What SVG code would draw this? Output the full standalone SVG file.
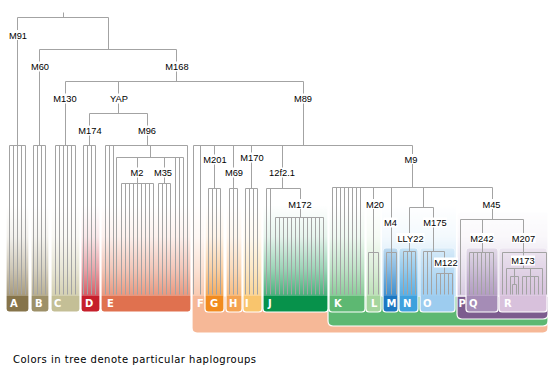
<svg xmlns="http://www.w3.org/2000/svg" width="553" height="374" viewBox="0 0 553 374">
<style>
.col{stroke:#fff;stroke-width:1.2;mask:url(#fade)}
.lt{font-family:"DejaVu Sans",Verdana,sans-serif;font-weight:bold;font-size:10px;fill:#fff}
.lb{font-family:"Liberation Sans",Arial,sans-serif;font-size:9.3px;fill:#000;text-anchor:middle}
.bg{fill:#fff}
.cA{fill:#86744a}.cB{fill:#9d9068}.cC{fill:#c4bf96}.cD{fill:#c61f2b}.cE{fill:#e0714f}
.cF{fill:#f6b897}.cG{fill:#f18b1f}.cH{fill:#f4a352}.cI{fill:#f9c56d}.cJ{fill:#07924b}
.cK{fill:#5db872}.cL{fill:#a5d59e}.cM{fill:#1c77c1}.cN{fill:#3ea1dd}.cO{fill:#9dccef}
.cP{fill:#7c5c8e}.cQ{fill:#a58cb6}.cR{fill:#d8c1dc}.cBl{fill:#8cc6ee}.cPu{fill:#c7b6d5}
#conn path{fill:none;stroke:#a3a3a3;stroke-width:1}
</style>
<defs>
<linearGradient id="fg" x1="0" y1="0" x2="0" y2="1">
<stop offset="0" stop-color="#000"/>
<stop offset="0.35" stop-color="#1a1a1a"/>
<stop offset="0.7" stop-color="#666"/>
<stop offset="1" stop-color="#bdbdbd"/>
</linearGradient>
<mask id="fade" maskUnits="userSpaceOnUse" x="0" y="0" width="553" height="374">
<rect x="0" y="205" width="553" height="91" fill="url(#fg)"/>
<rect x="0" y="296" width="553" height="78" fill="#fff"/>
</mask>
</defs>
<rect width="553" height="374" fill="#fff"/>

<g id="hg-F">
<path class="cF col" d="M192 205H205V296H548V328Q548 333 543 333H197Q192 333 192 328Z"/>
<text class="lt" x="197" y="307">F</text>
</g>
<g id="hg-K">
<path class="cK" stroke="#fff" stroke-width="1.2" d="M328 296H548V321Q548 326 543 326H333Q328 326 328 321Z"/>
<path class="cK col" d="M329 205H365V309Q365 312 362 312H332Q329 312 329 309Z"/>
<text class="lt" x="334" y="307">K</text>
</g>
<g id="hg-P">
<path class="cP" stroke="#fff" stroke-width="1.2" d="M457 296H548V314Q548 319 543 319H462Q457 319 457 314Z"/>
<path class="cPu col" d="M457 296V217Q457 212 462 212H548V296Z"/>
<text class="lt" x="458.5" y="307">P</text>
</g>
<g id="tint-MNO">
<rect class="cBl" x="382" y="205" width="74" height="91" mask="url(#fade)"/>
</g>

<g id="hg-A"><path class="cA col" d="M6 205H29V309Q29 312 26 312H9Q6 312 6 309Z"/><text class="lt" x="10" y="307">A</text></g>
<g id="hg-B"><path class="cB col" d="M31 205H49V309Q49 312 46 312H34Q31 312 31 309Z"/><text class="lt" x="35" y="307">B</text></g>
<g id="hg-C"><path class="cC col" d="M51 205H80V309Q80 312 77 312H54Q51 312 51 309Z"/><text class="lt" x="54" y="307">C</text></g>
<g id="hg-D"><path class="cD col" d="M81 205H100V309Q100 312 97 312H84Q81 312 81 309Z"/><text class="lt" x="85" y="307">D</text></g>
<g id="hg-E"><path class="cE col" d="M101 205H191V309Q191 312 188 312H104Q101 312 101 309Z"/><text class="lt" x="107" y="307">E</text></g>
<g id="hg-G"><path class="cG col" d="M205 205H224V309Q224 312 221 312H208Q205 312 205 309Z"/><text class="lt" x="210" y="307">G</text></g>
<g id="hg-H"><path class="cH col" d="M226 205H242V309Q242 312 239 312H229Q226 312 226 309Z"/><text class="lt" x="229" y="307">H</text></g>
<g id="hg-I"><path class="cI col" d="M243 205H262V309Q262 312 259 312H246Q243 312 243 309Z"/><text class="lt" x="245" y="307">I</text></g>
<g id="hg-J"><path class="cJ col" d="M263 205H328V309Q328 312 325 312H266Q263 312 263 309Z"/><text class="lt" x="268" y="307">J</text></g>
<g id="hg-L"><path class="cL col" d="M366 205H381V309Q381 312 378 312H369Q366 312 366 309Z"/><text class="lt" x="371" y="307">L</text></g>
<g id="hg-M"><path class="cM col" d="M383 251Q383 248 386 248H395Q398 248 398 251V309Q398 312 395 312H386Q383 312 383 309Z"/><text class="lt" x="386.5" y="307">M</text></g>
<g id="hg-N"><path class="cN col" d="M399 251Q399 248 402 248H415Q418 248 418 251V309Q418 312 415 312H402Q399 312 399 309Z"/><text class="lt" x="403" y="307">N</text></g>
<g id="hg-O"><path class="cO col" d="M420 251Q420 248 423 248H452Q455 248 455 251V309Q455 312 452 312H423Q420 312 420 309Z"/><text class="lt" x="423" y="307">O</text></g>
<g id="hg-Q"><path class="cQ col" d="M466 251Q466 248 469 248H495Q498 248 498 251V309Q498 312 495 312H469Q466 312 466 309Z"/><text class="lt" x="469" y="307">Q</text></g>
<g id="hg-R"><path class="cR col" d="M499 251Q499 248 502 248H544Q547 248 547 251V309Q547 312 544 312H502Q499 312 499 309Z"/><text class="lt" x="504" y="307">R</text></g>

<g id="conn" transform="translate(0.5 0.5)">
<path d="M63 12V17M17 17H108M17 17V145M108 17V49M39 49H176M39 49V145M176 49V81M65 81H303M65 81V145M118 81V113M89 113H147M89 113V145M147 113V145M303 81V145"/>
<path d="M9 145H25M9 145V294M13 145V294M17 145V294M21 145V294M25 145V294"/>
<path d="M33 145H45M33 145V294M37 145V294M41 145V294M45 145V294"/>
<path d="M55 145H75M55 145V294M59 145V294M63 145V294M67 145V294M71 145V294M75 145V294"/>
<path d="M83 145H95M83 145V294M87 145V294M91 145V294M95 145V294"/>
<path d="M105 145H187M105 145V294M109 145V294M113 145V294M187 145V294M150 145V157M116 157H183M116 157V294M175 157V294M179 157V294M183 157V294"/>
<path d="M137 157V183M121 183H153M121 183V294M125 183V294M129 183V294M133 183V294M137 183V294M141 183V294M145 183V294M149 183V294M153 183V294"/>
<path d="M164 157V183M158 183H170M158 183V294M162 183V294M166 183V294M170 183V294"/>
<path d="M193 145H412M193 145V294M200 145V294"/>
<path d="M214 145V188M208 188H220M208 188V294M212 188V294M216 188V294M220 188V294"/>
<path d="M233 145V188M229 188H237M229 188V294M233 188V294M237 188V294"/>
<path d="M251 145V188M245 188H257M245 188V294M249 188V294M253 188V294M257 188V294"/>
<path d="M282 145V188M266 188H300M266 188V294M270 188V294M300 188V217M275 217H323M275 217V294M279 217V294M283 217V294M287 217V294M291 217V294M295 217V294M299 217V294M303 217V294M307 217V294M311 217V294M315 217V294M319 217V294M323 217V294"/>
<path d="M412 145V187M332 187H492M332 187V294M336 187V294M340 187V294M344 187V294M348 187V294M352 187V294M356 187V294M360 187V294"/>
<path d="M373 187V252M368 252H378M368 252V294M373 252V294M378 252V294"/>
<path d="M391 187V252M386 252H396M386 252V294M391 252V294M396 252V294"/>
<path d="M423 187V207M409 207H433M409 207V251M403 251H415M403 251V294M407 251V294M411 251V294M415 251V294"/>
<path d="M433 207V251M423 251H444M423 251V294M427 251V294M431 251V294M444 251V273M436 273H452M436 273V294M440 273V294M444 273V294M448 273V294M452 273V294"/>
<path d="M492 187V219M460 219H523M460 219V294M482 219V252M469 252H493M469 252V294M473 252V294M477 252V294M481 252V294M485 252V294M489 252V294M493 252V294"/>
<path d="M523 219V268M502 252H546M502 252V294M546 252V294M506 268H542M506 268V294M542 268V294M514 268V276M510 276H518M510 276V294M518 276V294M514 276V284M512 284H516M512 284V294M516 284V294M530 268V276M522 276H538M522 276V294M526 276V294M530 276V294M534 276V294M538 276V294"/>
</g>

<g id="n-M91"><rect class="bg" x="9" y="30" width="19" height="10"/><text class="lb" x="18" y="38.5">M91</text></g>
<g id="n-M60"><rect class="bg" x="30.5" y="61.5" width="19" height="10"/><text class="lb" x="40" y="70">M60</text></g>
<g id="n-M168"><rect class="bg" x="165" y="61.5" width="24" height="10"/><text class="lb" x="177" y="70">M168</text></g>
<g id="n-M130"><rect class="bg" x="53" y="93.5" width="24" height="10"/><text class="lb" x="65" y="102">M130</text></g>
<g id="n-YAP"><rect class="bg" x="109" y="93.5" width="20" height="10"/><text class="lb" x="119" y="102">YAP</text></g>
<g id="n-M89"><rect class="bg" x="293.5" y="93.5" width="19" height="10"/><text class="lb" x="303" y="102">M89</text></g>
<g id="n-M174"><rect class="bg" x="78" y="125.5" width="24" height="10"/><text class="lb" x="90" y="134">M174</text></g>
<g id="n-M96"><rect class="bg" x="137.5" y="125.5" width="19" height="10"/><text class="lb" x="147" y="134">M96</text></g>
<g id="n-M2"><rect class="bg" x="130" y="167.5" width="14" height="10"/><text class="lb" x="137" y="176">M2</text></g>
<g id="n-M35"><rect class="bg" x="153.5" y="167.5" width="19" height="10"/><text class="lb" x="163" y="176">M35</text></g>
<g id="n-M201"><rect class="bg" x="203" y="154.5" width="24" height="10"/><text class="lb" x="215" y="163">M201</text></g>
<g id="n-M170"><rect class="bg" x="240" y="152.5" width="24" height="10"/><text class="lb" x="252" y="161">M170</text></g>
<g id="n-M69"><rect class="bg" x="224.5" y="167.5" width="19" height="10"/><text class="lb" x="234" y="176">M69</text></g>
<g id="n-12f2.1"><rect class="bg" x="268.5" y="167.5" width="27" height="10"/><text class="lb" x="282" y="176">12f2.1</text></g>
<g id="n-M172"><rect class="bg" x="288" y="199" width="24" height="10"/><text class="lb" x="300" y="207.5">M172</text></g>
<g id="n-M9"><rect class="bg" x="404" y="154" width="14" height="10"/><text class="lb" x="411" y="162.5">M9</text></g>
<g id="n-M20"><rect class="bg" x="365.5" y="199" width="19" height="10"/><text class="lb" x="375" y="207.5">M20</text></g>
<g id="n-M45"><rect class="bg" x="482" y="199" width="19" height="10"/><text class="lb" x="491.5" y="207.5">M45</text></g>
<g id="n-M4"><rect class="bg" x="383.5" y="217.5" width="14" height="10"/><text class="lb" x="390.5" y="226">M4</text></g>
<g id="n-M175"><rect class="bg" x="423" y="217.5" width="24" height="10"/><text class="lb" x="435" y="226">M175</text></g>
<g id="n-LLY22"><rect class="bg" x="396.5" y="233" width="28" height="10"/><text class="lb" x="410.5" y="241.5">LLY22</text></g>
<g id="n-M242"><rect class="bg" x="470" y="233" width="24" height="10"/><text class="lb" x="482" y="241.5">M242</text></g>
<g id="n-M207"><rect class="bg" x="511.5" y="233" width="24" height="10"/><text class="lb" x="523.5" y="241.5">M207</text></g>
<g id="n-M122"><rect class="bg" x="434" y="257.5" width="24" height="10"/><text class="lb" x="446" y="266">M122</text></g>
<g id="n-M173"><rect class="bg" x="511" y="255.5" width="24" height="10"/><text class="lb" x="523" y="264">M173</text></g>

<text x="13" y="363" font-family="'DejaVu Sans',Verdana,sans-serif" font-size="10" letter-spacing="0.5" fill="#000">Colors in tree denote particular haplogroups</text>
</svg>
